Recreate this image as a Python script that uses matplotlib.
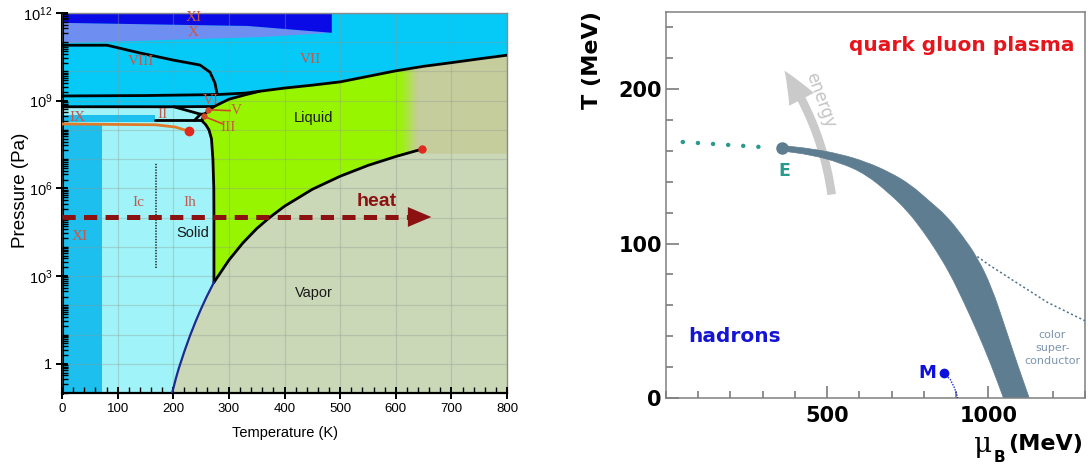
import numpy as np
import matplotlib
matplotlib.use("Agg")
import matplotlib.pyplot as plt
from matplotlib.patches import FancyArrowPatch, ArrowStyle, PathPatch
from matplotlib.path import Path
from matplotlib.ticker import FixedLocator, MultipleLocator

plt.rcParams['font.family'] = ['Liberation Sans', 'DejaVu Sans']
plt.rcParams['mathtext.fontset'] = 'custom'
plt.rcParams['mathtext.rm'] = 'Liberation Sans'
plt.rcParams['mathtext.it'] = 'Liberation Sans:italic'
plt.rcParams['mathtext.bf'] = 'Liberation Sans:bold'
plt.rcParams['lines.scale_dashes'] = False

# ======================= DATA: water phase diagram (T in K, P in Pa) =======================
sub_T = [198, 205, 210, 220, 230, 240, 250, 260, 273.16]          # sublimation curve
sub_P = [0.1, 0.33, 0.7, 2.65, 9.0, 27.3, 76, 196, 611]
vap_T = [273.16, 300, 325, 350, 373, 400, 450, 500, 550, 600, 647]  # vaporisation curve
vap_P = [611, 3.5e3, 1.35e4, 4.2e4, 1.0e5, 2.45e5, 9.3e5, 2.6e6, 6.1e6, 1.23e7, 2.2e7]
melt_T = [273.16, 273.15, 272.9, 271.3, 268.7, 264.2, 258.5, 251.2]  # ice Ih melting curve
melt_P = [611, 1e5, 1e6, 1e7, 5e7, 1e8, 1.5e8, 2.1e8]
top_T = [251.2, 256.2, 265, 273.3, 300, 330, 355, 400, 450, 500, 550, 600, 650, 700, 750, 800]
top_P = [2.1e8, 3.5e8, 4.8e8, 6.3e8, 1.12e9, 1.6e9, 2.1e9, 2.7e9, 3.4e9, 4.4e9, 6.8e9,
         1.05e10, 1.5e10, 2.0e10, 2.7e10, 3.6e10]                    # liquid / high-pressure ice
vi_T = [0, 201, 273.3]            # II|VI and V|VI boundary
vi_P = [6.2e8, 6.2e8, 6.3e8]
ii_v_T = [201, 249]
ii_v_P = [6.2e8, 3.45e8]
ii_iii_T = [238, 249, 256.2]
ii_iii_P = [2.1e8, 3.45e8, 3.5e8]
ih_ii_T = [168, 251.2]
ih_ii_P = [2.15e8, 2.15e8]
vii_T = [0, 150, 279, 330, 355]   # VI | VII-VIII boundary
vii_P = [1.45e9, 1.5e9, 1.62e9, 1.82e9, 2.1e9]
viii_T = [0, 81, 140, 200, 248, 266, 275, 279]
viii_P = [7.9e10, 7.9e10, 4.3e10, 2.45e10, 1.66e10, 9.5e9, 4.0e9, 1.62e9]
x_lo_T = [0, 356, 485]
x_lo_P = [9.3e10, 1.5e11, 2.1e11]
x_hi_T = [0, 334, 485]
x_hi_P = [4.6e11, 3.6e11, 2.1e11]
orange_T = [0, 168, 203, 228]
orange_P = [1.6e8, 1.5e8, 1.26e8, 9.1e7]
ix_T = [0, 168]
ix_P = [1.9e8, 3.3e8]
xi_Tmax = 72
xi_Pmax = 1.6e8
sc_Tmin = 638
sc_Pmin = 1.6e7
icih_T = 169
icih_P = [1.9e3, 7.4e6]
heat_T = [0, 669]
heat_P = 1.05e5
w_xticks = [0, 100, 200, 300, 400, 500, 600, 700, 800]
w_yticks = [1, 1e3, 1e6, 1e9, 1e12]
w_yticklabels = ['1', r'$10^{3}$', r'$10^{6}$', r'$10^{9}$', r'$10^{12}$']

# ======================= DATA: QCD phase diagram (mu_B, T in MeV) =======================
band_outer_mu = [360, 450, 540, 620, 696, 760, 820, 870, 920, 966, 1010, 1052, 1090, 1127]
band_outer_T = [163.5, 161.5, 158, 153, 146, 138, 127, 118, 105, 91, 72, 46, 22, 0]
band_inner_mu = [360, 450, 540, 620, 696, 750, 798, 840, 880, 920, 966, 1008, 1047]
band_inner_T = [160, 157.5, 152.5, 145, 132, 121, 108, 95, 81, 64, 43, 22, 0]
E_pt = (360, 162)
cross_mu = [52, 292]
cross_T = [165.8, 162.6]
csc_mu = [966, 1000, 1078, 1183, 1300]
csc_T = [91.6, 86.5, 76, 62, 50]
M_pt = (863, 16)
m_mu = [863, 882, 894, 901, 905]
m_T = [16, 12, 7, 3, 0]
energy_from = (515, 130)
energy_to = (363, 213.5)
q_xticks = [500, 1000]
q_yticks = [0, 100, 200]

# ======================= colours =======================
c_vapor = '#cad8b8'
c_sc = '#c6cd9c'
c_liq = '#98f500'
c_lcyan = '#a0f3f8'
c_mcyan = '#1dbfef'
c_hicyan = '#05c9f7'
c_x = '#6f8ef2'
c_xi = '#0a0ae6'
c_lab = '#c4584a'
c_heat = '#8c1212'

fig = plt.figure(figsize=(10.91, 4.68), dpi=100)

# ----------------------------------------------------------------------------- left
ax = fig.add_axes([62 / 1091, 1 - 393 / 468, 445 / 1091, 380 / 468])
L = np.log10
ax.set_xlim(0, 800)
ax.set_ylim(-1, 12)
ax.set_facecolor(c_vapor)

sT, sP = np.array(sub_T), L(sub_P)
vT, vP = np.array(vap_T), L(vap_P)
mT, mP = np.array(melt_T), L(melt_P)
tT, tP = np.array(top_T), L(top_P)
ymin, ymax = ax.get_ylim()

# light cyan: Ih, II, III, V
lc_x = [xi_Tmax] + list(sT) + list(mT[1:]) + list(tT[1:4]) + [vi_T[1], vi_T[0], 0, xi_Tmax]
lc_y = [ymin] + list(sP) + list(mP[1:]) + list(tP[1:4]) + \
       [L(vi_P[1]), L(vi_P[0]), L(xi_Pmax), L(xi_Pmax)]
ax.fill(lc_x, lc_y, color=c_lcyan, lw=0, zorder=1)
# ice XI (low T)
ax.fill([0, xi_Tmax, xi_Tmax, 0], [ymin, ymin, L(xi_Pmax), L(xi_Pmax)], color=c_mcyan, lw=0, zorder=1)
# ice IX box
ax.fill([ix_T[0], ix_T[1], ix_T[1], ix_T[0]], [L(ix_P[0]), L(ix_P[0]), L(ix_P[1]), L(ix_P[1])],
        color=c_mcyan, lw=0, zorder=1.2)
# high pressure ices VI, VII, VIII
hp_x = [vi_T[0], vi_T[1]] + list(tT[3:]) + [800, 0]
hp_y = [L(vi_P[0]), L(vi_P[1])] + list(tP[3:]) + [ymax, ymax]
ax.fill(hp_x, hp_y, color=c_hicyan, lw=0, zorder=1)
# liquid
Tc, Pc = vT[-1], vP[-1]
top_c = np.interp(Tc, tT, tP)
mask = tT < Tc
liq_x = list(vT) + [Tc] + list(tT[mask][::-1]) + list(mT[::-1][1:])
liq_y = list(vP) + [top_c] + list(tP[mask][::-1]) + list(mP[::-1][1:])
liq = ax.fill(liq_x, liq_y, color=c_liq, lw=0, zorder=1)[0]
# supercritical region
sc_T = np.concatenate([[sc_Tmin], tT[tT > sc_Tmin]])
sc_top = np.interp(sc_T, tT, tP)
ax.fill_between(sc_T, L(sc_Pmin), sc_top, color=c_sc, lw=0, zorder=1.1)
# soft gradient from liquid to supercritical
edges = np.linspace(sc_Tmin - 30, sc_Tmin, 11)
for i in range(10):
    sp = ax.axvspan(edges[i], edges[i + 1], color=c_sc, alpha=(i + 1) / 11, lw=0, zorder=1.05)
    sp.set_clip_path(liq)
# ice X and XI (top)
xhiT = np.array(x_hi_T); xloT = np.array(x_lo_T)
ax.fill(list(xloT) + list(xhiT[::-1]), list(L(x_lo_P)) + list(L(x_hi_P)[::-1]),
        color=c_x, lw=0, zorder=1.2)
ax.fill(list(xhiT) + [xhiT[-1], 0], list(L(x_hi_P)) + [ymax, ymax], color=c_xi, lw=0, zorder=1.2)

# boundary lines
kw = dict(color='black', lw=2, zorder=3, solid_capstyle='round')
ax.plot(vT, vP, **kw)
ax.plot(mT, mP, **kw)
ax.plot(tT, tP, **kw)
ax.plot(vi_T, L(vi_P), **kw)
ax.plot(ii_v_T, L(ii_v_P), **kw)
ax.plot(ii_iii_T, L(ii_iii_P), **kw)
ax.plot(ih_ii_T, L(ih_ii_P), **kw)
ax.plot(vii_T, L(vii_P), **kw)
ax.plot(viii_T, L(viii_P), **kw)
ax.plot(sT, sP, color='#1e2a90', lw=1.6, zorder=3)
ax.plot(orange_T, L(orange_P), color='#e07a28', lw=2, zorder=3)
ax.plot(orange_T[-1], L(orange_P[-1]), 'o', color='#e02a20', ms=6, zorder=4)
ax.plot(Tc, Pc, 'o', color='#e02a20', ms=5, zorder=4)
ax.plot([icih_T, icih_T], L(icih_P), color='#222222', lw=1.1, ls=(0, (1, 1)), zorder=3)

# heat arrow
ax.plot([heat_T[0], heat_T[1] - 36], [L(heat_P)] * 2, color=c_heat, lw=3.6,
        ls=(0, (9.5, 6)), zorder=4)
ax.annotate('', xy=(heat_T[1], L(heat_P)), xytext=(heat_T[1] - 40, L(heat_P)),
            arrowprops=dict(arrowstyle='-|>,head_length=1.3,head_width=0.55', color=c_heat,
                            lw=0, mutation_scale=13), zorder=4)
ax.text(566, 5.55, 'heat', color=c_heat, fontsize=14, fontweight='bold', ha='center', va='center', zorder=5)

# phase labels
rk = dict(family='Liberation Serif', color=c_lab, fontsize=11, ha='center', va='center', zorder=5)
ax.text(236, 11.83, 'XI', **rk)
ax.text(236, 11.33, 'X', **rk)
ax.text(142, 10.33, 'VIII', **rk)
ax.text(446, 10.4, 'VII', **rk)
ax.text(268, 9.0, 'VI', **rk)
ax.text(313, 8.65, 'V', **rk)
ax.text(298, 8.08, 'III', **rk)
ax.text(180, 8.52, 'II', **rk)
ax.text(28, 8.44, 'IX', **rk)
ax.text(138, 5.5, 'Ic', **rk)
ax.text(230, 5.5, 'Ih', **rk)
ax.text(32, 4.35, 'XI', **rk)
ax.plot([262, 302], [8.69, 8.66], color='#d2482a', lw=1.2, zorder=4)
ax.plot([257, 290], [8.45, 8.2], color='#d2482a', lw=1.2, zorder=4)
ax.plot(262, 8.69, 'o', color='#d2482a', ms=3.5, zorder=4)
ax.plot(256, 8.47, 'o', color='#d2482a', ms=3.5, zorder=4)
sk = dict(color='#1a1a1a', fontsize=10.5, ha='center', va='center', zorder=5)
ax.text(452, 8.42, 'Liquid', **sk)
ax.text(236, 4.47, 'Solid', **sk)
ax.text(452, 2.42, 'Vapor', **sk)

# grid / ticks / spines
ax.set_axisbelow(False)
ax.grid(True, which='major', axis='x', color='#8f9a8f', alpha=0.35, lw=0.9)
ax.xaxis.set_major_locator(FixedLocator(w_xticks))
ax.xaxis.set_minor_locator(MultipleLocator(20))
ax.yaxis.set_major_locator(FixedLocator(L(w_yticks)))
dec_minor = [np.log10(m * 10.0 ** k) for k in range(-1, 12) for m in range(1, 10)]
ax.yaxis.set_minor_locator(FixedLocator(dec_minor))
ax.set_yticklabels(w_yticklabels, fontsize=10.5)
ax.set_xticklabels([str(t) for t in w_xticks], fontsize=9.5)
for k in range(-1, 13):
    ax.axhline(k, color='#8f9a8f', alpha=0.35, lw=0.9, zorder=2.4)
ax.tick_params(which='major', direction='inout', length=8, width=1.4, color='black', pad=3)
ax.tick_params(which='minor', direction='in', length=4, width=1.0, color='black')
ax.tick_params(top=False, right=False, which='both')
ax.spines['left'].set_linewidth(2.2)
ax.spines['bottom'].set_linewidth(1.6)
for s in ('top', 'right'):
    ax.spines[s].set_color('#8a8a8a')
    ax.spines[s].set_linewidth(1.0)
ax.text(0.5, -0.105, 'Temperature (K)', transform=ax.transAxes, fontsize=10.5,
        ha='center', va='center')
ax.text(-0.094, 0.534, 'Pressure (Pa)', transform=ax.transAxes, fontsize=13.5,
        ha='center', va='center', rotation=90)

# ----------------------------------------------------------------------------- right
bx = fig.add_axes([666 / 1091, 1 - 398 / 468, 419 / 1091, 386 / 468])
bx.set_xlim(0, 1300)
bx.set_ylim(0, 250)
c_band = '#5f7d91'


def smooth_chain(pts, first_code):
    """Quadratic-Bezier rendering through the read points (midpoint scheme)."""
    verts = [pts[0]]
    codes = [first_code]
    n = len(pts)
    verts.append(((pts[0][0] + pts[1][0]) / 2, (pts[0][1] + pts[1][1]) / 2))
    codes.append(Path.LINETO)
    for i in range(1, n - 1):
        mid = ((pts[i][0] + pts[i + 1][0]) / 2, (pts[i][1] + pts[i + 1][1]) / 2)
        verts += [pts[i], mid]
        codes += [Path.CURVE3, Path.CURVE3]
    verts.append(pts[-1])
    codes.append(Path.LINETO)
    return verts, codes


outer = list(zip(band_outer_mu, band_outer_T))
inner = list(zip(band_inner_mu, band_inner_T))[::-1]
v1, c1 = smooth_chain(outer, Path.MOVETO)
v2, c2 = smooth_chain(inner, Path.LINETO)
band_path = Path(v1 + v2 + [v1[0]], c1 + c2 + [Path.CLOSEPOLY])
bx.add_patch(PathPatch(band_path, facecolor=c_band, edgecolor=c_band, lw=0.5, zorder=2))
bx.plot(*E_pt, 'o', color=c_band, ms=8, zorder=3)
bx.plot(cross_mu, cross_T, color='#2a9a8c', lw=3.2, ls=(0, (0.1, 10.8)),
        dash_capstyle='round', zorder=3)
bx.plot(csc_mu, csc_T, color='#4f7488', lw=1.1, ls=(0, (1.5, 1.8)), zorder=3)
bx.plot(m_mu, m_T, color='#1a2ad8', lw=1.0, ls=(0, (1, 1)), zorder=3)
bx.plot(*M_pt, 'o', color='#1010dd', ms=6, zorder=4)

arr = FancyArrowPatch(energy_from, energy_to, connectionstyle='arc3,rad=0.12',
                      arrowstyle=ArrowStyle.Simple(head_length=2.4, head_width=2.0, tail_width=0.62),
                      mutation_scale=10, color='#cacaca', lw=0, zorder=1.5)
bx.add_patch(arr)
bx.text(480, 193, 'energy', color='#c4c4c4', fontsize=12, rotation=-70, family='DejaVu Sans',
        ha='center', va='center', zorder=1.5)

bk = dict(family='DejaVu Sans', fontweight='bold')
bx.text(568, 228.5, 'quark gluon plasma', color='#e8141c', fontsize=14.5, ha='left', va='center', **bk)
bx.text(68, 40, 'hadrons', color='#1414d2', fontsize=14.5, ha='left', va='center', **bk)
bx.text(366, 147, 'E', color='#2a9a8c', fontsize=12.5, ha='center', va='center', **bk)
bx.text(840, 16, 'M', color='#1010dd', fontsize=13, ha='right', va='center', **bk)
bx.text(1199, 32.5, 'color\nsuper-\nconductor', color='#7b95ad', fontsize=8, ha='center',
        va='center', linespacing=1.35, family='DejaVu Sans')

bx.xaxis.set_major_locator(FixedLocator(q_xticks))
bx.xaxis.set_minor_locator(MultipleLocator(100))
bx.yaxis.set_major_locator(FixedLocator(q_yticks))
bx.yaxis.set_minor_locator(MultipleLocator(20))
bx.set_xticklabels([str(t) for t in q_xticks], fontsize=15, **bk)
bx.set_yticklabels([str(t) for t in q_yticks], fontsize=15, **bk)
bx.tick_params(which='both', direction='in', color='#707070', width=1.1, top=False, right=False)
bx.tick_params(which='major', length=9)
bx.tick_params(which='minor', length=5)
bx.tick_params(axis='x', pad=6)
bx.tick_params(axis='y', pad=3)
for s in bx.spines.values():
    s.set_color('#808080')
    s.set_linewidth(1.1)
bx.text(-0.177, 0.876, 'T (MeV)', transform=bx.transAxes, rotation=90, fontsize=16,
        ha='center', va='center', **bk)
bx.text(0.995, -0.118, '(MeV)', transform=bx.transAxes, fontsize=16, ha='right', va='center', **bk)
bx.text(0.779, -0.139, 'μ', transform=bx.transAxes, fontsize=20, ha='right', va='baseline',
        family='DejaVu Serif')
bx.text(0.781, -0.166, 'B', transform=bx.transAxes, fontsize=11, ha='left', va='baseline', **bk)

fig.savefig('out.png', dpi=100)
